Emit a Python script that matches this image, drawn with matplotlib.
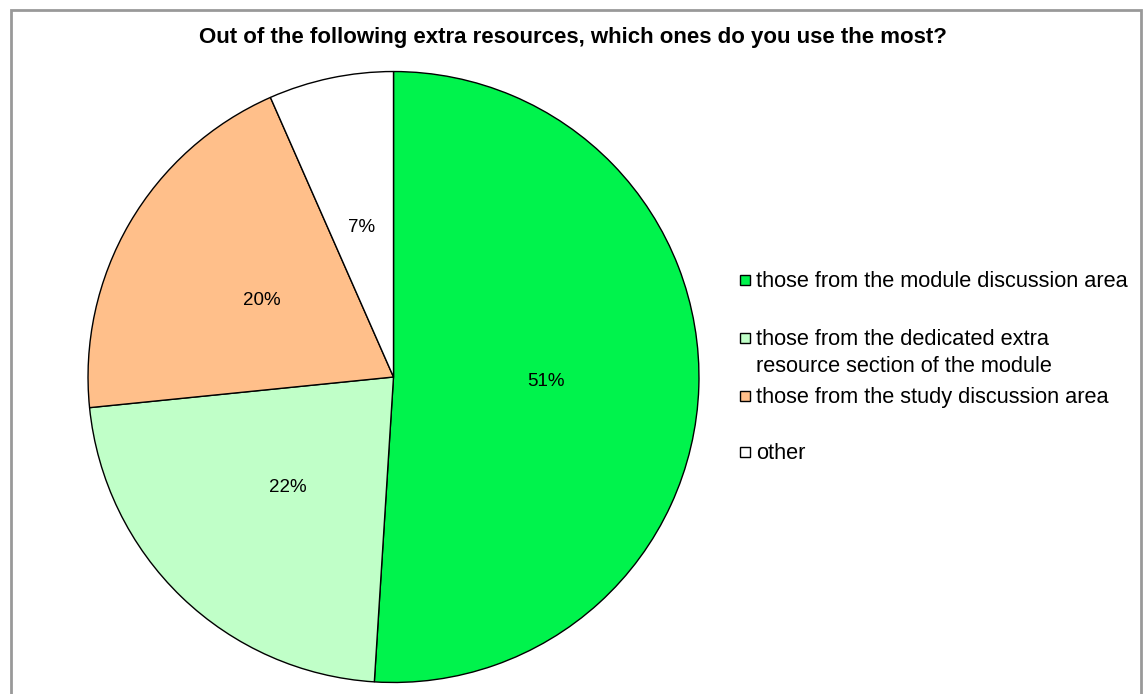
import matplotlib
matplotlib.use("Agg")
import matplotlib.pyplot as plt
from matplotlib.patches import Rectangle

plt.rcParams['font.family'] = ['Liberation Sans', 'DejaVu Sans']

title = "Out of the following extra resources, which ones do you use the most?"
categories = [
    "those from the module discussion area",
    "those from the dedicated extra\nresource section of the module",
    "those from the study discussion area",
    "other",
]
values = [51.0, 22.4, 20.0, 6.6]
colors = ["#00F34C", "#C0FFC8", "#FFBF8A", "#FFFFFF"]

fig = plt.figure(figsize=(11.46, 6.94), dpi=100)

# outer frame
fig.patches.append(Rectangle((11/1146, -0.05), (1141-11)/1146, 1.05 - 10/694,
                             transform=fig.transFigure, fill=False,
                             edgecolor="#999999", linewidth=2))

fig.text(573/1146, 1 - 37/694, title, ha="center", va="center",
         fontsize=16, fontweight="bold")

r_px = 307
cx, cy = 393.5, 377
ax = fig.add_axes([(cx - r_px)/1146, (694 - cy - r_px)/694, 2*r_px/1146, 2*r_px/694])
wedges, texts, autotexts = ax.pie(
    values, colors=colors, startangle=90, counterclock=False,
    autopct=lambda p: f"{p:.0f}%", pctdistance=0.5,
    wedgeprops=dict(edgecolor="black", linewidth=1.0),
    textprops=dict(fontsize=13.5), radius=1.0)
ax.set_xlim(-1.005, 1.005)
ax.set_ylim(-1.005, 1.005)
ax.set_aspect("equal")
ax.axis("off")

# manual legend (Excel-like spacing)
legend_y = [280, 338, 396, 452]
line_step = 27
for lab, col, y in zip(categories, colors, legend_y):
    fig.patches.append(Rectangle((740/1146, 1 - (y + 5)/694), 10/1146, 10/694,
                                 transform=fig.transFigure, facecolor=col,
                                 edgecolor="black", linewidth=1))
    for k, line in enumerate(lab.split("\n")):
        fig.text(756/1146, 1 - (y + 7 + k*line_step)/694, line, ha="left",
                 va="baseline", fontsize=15.7)

fig.savefig("out.png", dpi=100)
